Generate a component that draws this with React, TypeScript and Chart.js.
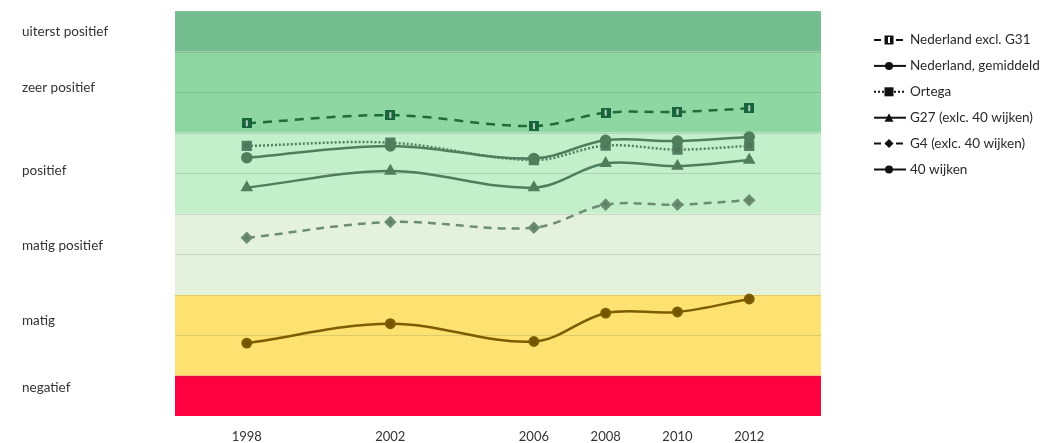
import { useEffect, useRef } from 'react';
import { Chart, registerables } from 'chart.js';
Chart.register(...registerables);

const years = [1998, 2002, 2006, 2008, 2010, 2012];
const nlExclG31 = [7.23, 7.43, 7.16, 7.49, 7.51, 7.6];
const nlGemiddeld = [6.38, 6.67, 6.36, 6.81, 6.79, 6.89];
const ortega = [6.67, 6.75, 6.32, 6.68, 6.58, 6.67];
const g27 = [5.64, 6.05, 5.64, 6.24, 6.17, 6.32];
const g4 = [4.4, 4.79, 4.65, 5.22, 5.22, 5.33];
const wijken40 = [1.8, 2.28, 1.84, 2.54, 2.57, 2.89];

const seriesNames = [
  'Nederland excl. G31',
  'Nederland, gemiddeld',
  'Ortega',
  'G27 (exlc. 40 wijken)',
  'G4 (exlc. 40 wijken)',
  '40 wijken',
];

const bandLabels = ['negatief', 'matig', 'matig positief', 'positief', 'zeer positief', 'uiterst positief'];
const bandBounds = [0, 1, 3, 5, 7, 9, 10];
const bandLabelValues = [0.7, 2.35, 4.2, 6.05, 8.1, 9.5];
const bandColors = ['#ff0040', '#fde272', '#e4f2dd', '#c3efcb', '#8ed7a2', '#74bd8e'];
const gridValues = [1, 2, 3, 4, 5, 6, 7, 8, 9];

const FONT = 'Lato, "Open Sans", sans-serif';

function makeG31Marker(color: string) {
  const c = document.createElement('canvas');
  c.width = 10;
  c.height = 10;
  const g = c.getContext('2d')!;
  g.fillStyle = color;
  g.fillRect(0, 0, 10, 10);
  g.fillStyle = 'rgba(255,255,255,0.7)';
  g.fillRect(4, 2, 2, 6);
  return c;
}

type MarkerKind = 'g31' | 'circle' | 'rect' | 'triangle' | 'diamond';

function drawMarker(ctx: CanvasRenderingContext2D, kind: MarkerKind, x: number, y: number, color: string) {
  ctx.save();
  ctx.setLineDash([]);
  ctx.fillStyle = color;
  ctx.beginPath();
  if (kind === 'g31' || kind === 'rect') {
    ctx.fillRect(x - 4.5, y - 4.5, 9, 9);
    if (kind === 'g31') {
      ctx.fillStyle = '#ffffff';
      ctx.fillRect(x - 1, y - 3, 2, 6);
    }
  } else if (kind === 'circle') {
    ctx.arc(x, y, 4, 0, Math.PI * 2);
    ctx.fill();
  } else if (kind === 'triangle') {
    ctx.moveTo(x, y - 4.5);
    ctx.lineTo(x + 4.5, y + 4);
    ctx.lineTo(x - 4.5, y + 4);
    ctx.closePath();
    ctx.fill();
  } else {
    ctx.moveTo(x, y - 4.5);
    ctx.lineTo(x + 4.5, y);
    ctx.lineTo(x, y + 4.5);
    ctx.lineTo(x - 4.5, y);
    ctx.closePath();
    ctx.fill();
  }
  ctx.restore();
}

const legendStyles: { kind: MarkerKind; dash: number[] }[] = [
  { kind: 'g31', dash: [7, 4] },
  { kind: 'circle', dash: [] },
  { kind: 'rect', dash: [2, 2] },
  { kind: 'triangle', dash: [] },
  { kind: 'diamond', dash: [7, 4] },
  { kind: 'circle', dash: [] },
];

const bandsPlugin = {
  id: 'bands',
  beforeDatasetsDraw(chart: any) {
    const { ctx, chartArea } = chart;
    const y = chart.scales.y;
    ctx.save();
    for (let i = 0; i < bandColors.length; i++) {
      const top = y.getPixelForValue(bandBounds[i + 1]);
      const bottom = y.getPixelForValue(bandBounds[i]);
      ctx.fillStyle = bandColors[i];
      ctx.fillRect(chartArea.left, top, chartArea.right - chartArea.left, bottom - top);
    }
    ctx.strokeStyle = 'rgba(60,80,60,0.16)';
    ctx.lineWidth = 1;
    for (const v of gridValues) {
      const py = Math.round(y.getPixelForValue(v)) + 0.5;
      ctx.beginPath();
      ctx.moveTo(chartArea.left, py);
      ctx.lineTo(chartArea.right, py);
      ctx.stroke();
    }
    ctx.restore();
  },
};

const legendPlugin = {
  id: 'customLegend',
  afterDraw(chart: any) {
    const { ctx } = chart;
    ctx.save();
    ctx.font = `13.5px ${FONT}`;
    ctx.textBaseline = 'middle';
    ctx.textAlign = 'left';
    seriesNames.forEach((name, i) => {
      const yy = 40 + i * 25.9;
      const st = legendStyles[i];
      ctx.strokeStyle = '#111';
      ctx.lineWidth = 2;
      ctx.setLineDash(st.dash);
      ctx.beginPath();
      ctx.moveTo(874, yy);
      ctx.lineTo(906, yy);
      ctx.stroke();
      drawMarker(ctx, st.kind, 889, yy, '#111');
      ctx.fillStyle = '#2a2a2a';
      ctx.fillText(name, 910, yy);
    });
    ctx.restore();
  },
};

function pts(vals: number[]) {
  return years.map((yr, i) => ({ x: yr, y: vals[i] }));
}

export default function App() {
  const ref = useRef<HTMLCanvasElement>(null);
  useEffect(() => {
    const canvas = ref.current!;
    const darkGreen = '#1e6c3b';
    const grayGreen = '#4f7e5d';
    const chart = new Chart(canvas, {
      type: 'line',
      data: {
        datasets: [
          {
            label: seriesNames[5],
            data: pts(wijken40),
            borderColor: '#7d5c00',
            backgroundColor: '#735400',
            borderWidth: 2.5,
            pointStyle: 'circle',
            pointRadius: 4.2,
            tension: 0.35,
          },
          {
            label: seriesNames[4],
            data: pts(g4),
            borderColor: '#6d8d73',
            backgroundColor: '#5f8266',
            borderWidth: 2.5,
            borderDash: [8, 6],
            pointStyle: 'rectRot',
            pointRadius: 4.5,
            tension: 0.35,
          },
          {
            label: seriesNames[3],
            data: pts(g27),
            borderColor: grayGreen,
            backgroundColor: grayGreen,
            borderWidth: 2.5,
            pointStyle: 'triangle',
            pointRadius: 4.8,
            tension: 0.35,
          },
          {
            label: seriesNames[1],
            data: pts(nlGemiddeld),
            borderColor: grayGreen,
            backgroundColor: grayGreen,
            borderWidth: 2.5,
            pointStyle: 'circle',
            pointRadius: 4.5,
            tension: 0.35,
          },
          {
            label: seriesNames[2],
            data: pts(ortega),
            borderColor: '#557f62',
            backgroundColor: '#4e765a',
            borderWidth: 2.5,
            borderDash: [2, 2],
            pointStyle: 'rect',
            pointRadius: 5.5,
            tension: 0.35,
          },
          {
            label: seriesNames[0],
            data: pts(nlExclG31),
            borderColor: darkGreen,
            backgroundColor: darkGreen,
            borderWidth: 2.5,
            borderDash: [9, 7],
            pointStyle: makeG31Marker('#17653a') as any,
            pointRadius: 5,
            tension: 0.35,
          },
        ],
      },
      options: {
        animation: false,
        responsive: true,
        maintainAspectRatio: false,
        layout: { padding: { left: 22, right: 232, top: 11, bottom: 0 } },
        plugins: { legend: { display: false }, tooltip: { enabled: false } },
        scales: {
          x: {
            type: 'linear',
            min: 1996,
            max: 2014,
            grid: { display: false, drawTicks: false },
            border: { display: false },
            afterBuildTicks: (axis: any) => {
              axis.ticks = years.map((v) => ({ value: v }));
            },
            afterFit: (axis: any) => {
              axis.height = 27;
            },
            ticks: {
              padding: 13,
              color: '#333',
              font: { family: FONT, size: 13 },
              maxRotation: 0,
              autoSkip: false,
              callback: (v: any) => String(v),
            },
          },
          y: {
            type: 'linear',
            min: 0,
            max: 10,
            grid: { display: false, drawTicks: false },
            border: { display: false },
            afterBuildTicks: (axis: any) => {
              axis.ticks = bandLabelValues.map((v) => ({ value: v }));
            },
            afterFit: (axis: any) => {
              axis.width = 153;
            },
            ticks: {
              crossAlign: 'far',
              color: '#333',
              font: { family: FONT, size: 13.5 },
              autoSkip: false,
              callback: (v: any) => {
                const idx = bandLabelValues.indexOf(Number(v));
                return idx >= 0 ? bandLabels[idx] : '';
              },
            },
          },
        },
      },
      plugins: [bandsPlugin, legendPlugin],
    });
    return () => chart.destroy();
  }, []);
  return (
    <div style={{ position: 'absolute', left: 0, top: 0, width: 1053, height: 443, background: '#fff' }}>
      <canvas ref={ref} />
    </div>
  );
}
